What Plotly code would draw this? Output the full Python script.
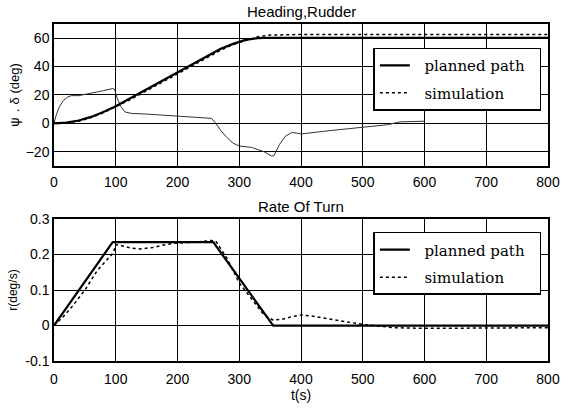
import plotly.graph_objects as go

# ---- data ----
t_head_plan = [0, 20, 40, 60, 80, 100, 125, 150, 175, 200, 225, 250, 270, 290, 310, 330, 350, 400, 500, 600, 700, 800]
head_plan = [0, 0.5, 2, 4.5, 8, 12, 18, 24, 30, 36, 42, 48, 52.5, 56, 58.8, 60, 60.3, 60.3, 60.3, 60.3, 60.3, 60.3]

t_head_sim = [0, 20, 40, 60, 80, 100, 125, 150, 175, 200, 225, 250, 270, 290, 310, 330, 350, 400, 500, 600, 700, 800]
head_sim = [0, 0.3, 1.5, 4, 7.5, 11.5, 17, 23, 29, 35, 41, 47, 51.5, 55.5, 58.5, 61, 62.2, 62.6, 62.6, 62.6, 62.6, 62.6]

t_rudder = [0, 3, 8, 15, 22, 28, 40, 60, 80, 95, 98, 102, 108, 115, 125, 150, 200, 240, 255, 262, 270, 280, 290, 300,
            320, 340, 352, 356, 365, 375, 385, 395, 400, 450, 500, 540, 560, 600]
rudder = [0, 5, 11, 16, 18.5, 19.5, 19.5, 21, 23, 24.5, 24, 18, 12, 8, 7, 6.5, 5, 4, 3.5, 0, -5, -10, -14, -16,
          -17, -20, -23, -23, -15, -9, -6.5, -7, -7.5, -5, -3, -1, 1, 1.5]

t_rate_plan = [0, 95, 258, 355, 800]
rate_plan = [0, 0.235, 0.235, 0, 0]

t_rate_sim = [0, 15, 30, 50, 70, 90, 96, 100, 110, 125, 140, 160, 180, 200, 230, 255, 262, 280, 300, 320, 340, 355,
              370, 385, 400, 420, 440, 460, 480, 500, 550, 600, 700, 800]
rate_sim = [0, 0.025, 0.055, 0.1, 0.155, 0.195, 0.205, 0.228, 0.225, 0.218, 0.216, 0.22, 0.228, 0.233, 0.235, 0.24,
            0.238, 0.19, 0.12, 0.075, 0.03, 0.015, 0.018, 0.025, 0.03, 0.026, 0.02, 0.014, 0.008, 0.003, -0.006,
            -0.008, -0.007, -0.006]

x_ticks = [0, 100, 200, 300, 400, 500, 600, 700, 800]
head_ticks = [-20, 0, 20, 40, 60]
rate_ticks = [-0.1, 0, 0.1, 0.2, 0.3]
rate_tick_text = ["-0.1", "0", "0.1", "0.2", "0.3"]
legend_names = ["planned path", "simulation"]

SANS = "Liberation Sans, Arial, sans-serif"
SERIF = "DejaVu Serif, Liberation Serif, serif"
PAD = "\u00a0\u00a0"

fig = go.Figure()
fig.add_trace(go.Scatter(x=t_rudder, y=rudder, mode="lines", line=dict(color="#333", width=1),
                         showlegend=False, xaxis="x", yaxis="y"))
fig.add_trace(go.Scatter(x=t_head_plan, y=head_plan, mode="lines", name=PAD + legend_names[0] + PAD,
                         line=dict(color="black", width=2.2), legendgroup="a", legend="legend",
                         xaxis="x", yaxis="y"))
fig.add_trace(go.Scatter(x=t_head_sim, y=head_sim, mode="lines", name=PAD + legend_names[1] + PAD,
                         line=dict(color="black", width=1.5, dash="dot"), legendgroup="b", legend="legend",
                         xaxis="x", yaxis="y"))
fig.add_trace(go.Scatter(x=t_rate_plan, y=rate_plan, mode="lines", name=PAD + legend_names[0] + PAD,
                         line=dict(color="black", width=2.2), legendgroup="c", legend="legend2",
                         xaxis="x2", yaxis="y2"))
fig.add_trace(go.Scatter(x=t_rate_sim, y=rate_sim, mode="lines", name=PAD + legend_names[1] + PAD,
                         line=dict(color="black", width=1.5, dash="dot"), legendgroup="d", legend="legend2",
                         xaxis="x2", yaxis="y2"))

axis_common = dict(showline=True, linecolor="black", linewidth=1.5, mirror=True,
                   showgrid=True, gridcolor="black", gridwidth=1, zeroline=False,
                   ticks="", tickfont=dict(family=SANS, size=14, color="black"))

legend_common = dict(xanchor="left", yanchor="top", bgcolor="white", bordercolor="black", borderwidth=1.5,
                     font=dict(family=SERIF, size=15, color="black"), tracegroupgap=5)

fig.update_layout(
    width=572, height=408,
    margin=dict(l=54, r=23, t=24, b=42),
    paper_bgcolor="white", plot_bgcolor="white",
    xaxis=dict(domain=[0, 1], range=[0, 800], tickvals=x_ticks, anchor="y", ticklabelstandoff=3, **axis_common),
    yaxis=dict(domain=[0.579, 1], range=[-30, 70], tickvals=head_ticks, anchor="x",
               title=dict(text="ψ．δ (deg)", font=dict(family=SANS, size=13, color="black"), standoff=3),
               **axis_common),
    xaxis2=dict(domain=[0, 1], range=[0, 800], tickvals=x_ticks, anchor="y2", ticklabelstandoff=4,
                title=dict(text="t(s)", font=dict(family=SANS, size=14, color="black"), standoff=0),
                **axis_common),
    yaxis2=dict(domain=[0, 0.421], range=[-0.1, 0.3], tickvals=rate_ticks, ticktext=rate_tick_text, anchor="x2",
                title=dict(text="r(deg/s)", font=dict(family=SANS, size=12, color="black"), standoff=5),
                **axis_common),
    legend=dict(x=0.6465, y=0.93, **legend_common),
    legend2=dict(x=0.6465, y=0.421 * (366 - 235) / 144, **legend_common),
    annotations=[
        dict(text="Heading,Rudder", x=0.5, y=1, xref="paper", yref="paper", xanchor="center", yanchor="bottom",
             yshift=2, showarrow=False, font=dict(family=SANS, size=15, color="black")),
        dict(text="Rate Of Turn", x=0.5, y=0.421, xref="paper", yref="paper", xanchor="center", yanchor="bottom",
             yshift=2, showarrow=False, font=dict(family=SANS, size=15, color="black")),
    ],
)

fig.write_html("out.html")
